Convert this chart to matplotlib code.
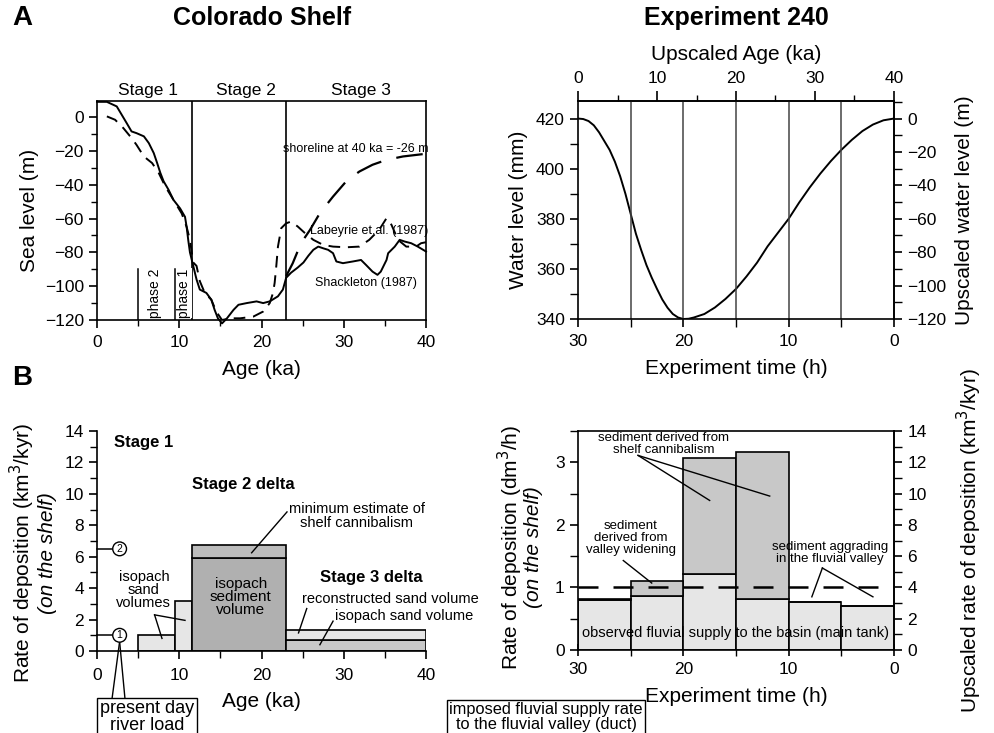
import matplotlib.pyplot as plt
from matplotlib.ticker import MultipleLocator

plt.rcParams['font.family'] = ['Liberation Sans', 'DejaVu Sans']
plt.rcParams['axes.linewidth'] = 1.2
plt.rcParams['xtick.major.width'] = 1.2
plt.rcParams['ytick.major.width'] = 1.2
plt.rcParams['xtick.minor.width'] = 1.0
plt.rcParams['ytick.minor.width'] = 1.0
plt.rcParams['xtick.labelsize'] = 12.5
plt.rcParams['ytick.labelsize'] = 12.5

# --- sea level curves (Colorado shelf) ---
shack_age = [0, 1.2, 2.4, 3.0, 3.6, 4.2, 4.8, 5.7, 6.3, 6.9, 7.3, 7.7, 8.1, 8.7, 9.3, 10.1,
             10.7, 10.9, 11.1, 11.3, 11.7, 12.1, 12.5, 13.3, 13.9, 14.3, 14.7, 15.2, 15.8,
             16.6, 17.2, 18.2, 19.4, 20.2, 21.0, 22.0, 22.6, 23.0, 23.6, 24.4, 25.1, 25.7,
             26.3, 26.9, 27.5, 28.1, 28.7, 29.1, 29.9, 31.1, 32.1, 32.7, 33.5, 34.1, 34.5,
             35.2, 35.4, 36.2, 36.8, 37.4, 38.2, 39.0, 40.0]
shack_sl = [9, 9, 6.3, 1.4, -3.5, -8.5, -9.5, -11.4, -15.4, -21.3, -27, -33, -38, -43, -49, -54,
            -59, -65, -73, -80, -88, -96, -102, -104, -108, -114, -119, -122, -119,
            -114, -111, -110, -109, -110, -109, -106, -102, -95, -92, -89, -86, -82,
            -78.5, -76.6, -77.6, -78.5, -80.5, -85.4, -86.4, -85.4, -84.5, -87.4, -91.4, -93.3, -91.4,
            -84.5, -80.5, -76.6, -72.6, -73.6, -74.6, -76.6, -79.5]

lab_age = [1.2, 2.2, 3.2, 4.2, 4.8, 5.7, 6.7, 7.5, 8.3, 9.3, 10.3, 10.9, 11.3, 11.7, 12.1,
           12.5, 13.1, 13.9, 14.5, 15.2, 16.2, 17.4, 19.0, 20.2, 21.0, 21.4, 21.6, 21.8,
           22.0, 22.4, 23.0, 23.6, 24.4, 25.3, 26.3, 27.5, 28.7, 30.3, 31.9, 33.1, 34.3,
           35.2, 35.8, 36.6, 37.6, 38.8, 39.4, 40.0]
lab_sl = [0.4, -1.6, -6.5, -12.4, -16.4, -23.3, -27.2, -33, -41, -49, -57, -65, -72.6, -86, -88,
          -97, -104, -108, -115, -120, -119, -119, -118, -115, -110, -104, -98, -88,
          -76.6, -65.7, -62.8, -61.8, -64.7, -68.7, -72.6, -75.6, -76.6, -77, -76.6, -72.6, -66.7,
          -59.8, -63.7, -72.6, -76.6, -76.6, -74.6, -74]

shore_age = [23.0, 23.8, 24.8, 25.9, 27.1, 28.7, 30.3, 31.9, 33.5, 35.2, 37.2, 40.0]
shore_sl = [-94, -86.4, -74.6, -66.7, -56.8, -47, -38, -32.2, -28.2, -25.3, -23.3, -21.7]

stage_bounds = [11.5, 23]
phase_ages = [5, 9.5]

# --- experiment 240 water level ---
exp_t = [30, 29.5, 29, 28.5, 28, 27.5, 27, 26.5, 26, 25.5, 25, 24.5, 24, 23.5, 23, 22.5, 22,
         21.5, 21, 20.5, 20, 19.5, 19, 18, 17, 16, 15, 14, 13, 12, 11, 10, 9, 8, 7, 6, 5,
         4, 3, 2, 1, 0]
exp_wl = [420, 419.8, 419, 417.3, 414.5, 411, 407.5, 402.8, 397, 390, 382, 374, 367.5, 361.5,
          356.5, 352, 347.8, 344.5, 342, 340.6, 340, 340.1, 340.6, 342, 344.6, 348, 352,
          357, 362.5, 369, 374.5, 380, 386.5, 392.5, 398, 403, 407.5, 411.5, 415, 417.6,
          419.3, 420]
exp_marks = [25, 20, 15, 10, 5]

# --- deposition rates on the shelf ---
shelf_x0 = [5, 9.5, 11.5, 23]
shelf_x1 = [9.5, 11.5, 23, 40]
shelf_isopach = [1.02, 3.18, 5.94, 0.72]
shelf_upper = [1.02, 3.18, 6.77, 1.32]
river_load = [1.0, 6.5]

exp_x0 = [30, 25, 20, 15, 10, 5]
exp_x1 = [25, 20, 15, 10, 5, 0]
exp_supply = [0.80, 0.86, 1.21, 0.81, 0.76, 0.71]
exp_total = [0.82, 1.10, 3.07, 3.16, 0.76, 0.71]
imposed_rate = 1.0

light = '#e6e6e6'
mid = '#c8c8c8'
dark = '#b0b0b0'

fig = plt.figure(figsize=(9.95, 7.33), dpi=100)
W, H = 995.0, 733.0


def box(l, r, t, b):
    return [l / W, 1 - b / H, (r - l) / W, (b - t) / H]


# ===================== A left: sea level =====================
ax1 = fig.add_axes(box(97, 426, 101, 320))
ax1.plot(shack_age, shack_sl, color='k', lw=1.4, clip_on=False)
ax1.plot(lab_age, lab_sl, color='k', lw=1.4, dashes=(6, 4))
ax1.plot(shore_age, shore_sl, color='k', lw=1.6, dashes=(12, 7))
for s in stage_bounds:
    ax1.axvline(s, color='k', lw=1.2)
for p in phase_ages:
    ax1.plot([p, p], [-120, -90], color='k', lw=1.1)
ax1.text(7.0, -104, 'phase 2', rotation=90, ha='center', va='center', fontsize=10)
ax1.text(10.6, -104, 'phase 1', rotation=90, ha='center', va='center', fontsize=10,
         bbox=dict(fc='white', ec='none', pad=0.5))
ax1.text(31.5, -19, 'shoreline at 40 ka = -26 m', ha='center', va='center', fontsize=9)
ax1.text(33.1, -67.5, 'Labeyrie et.al. (1987)', ha='center', va='center', fontsize=9)
ax1.text(32.7, -98, 'Shackleton (1987)', ha='center', va='center', fontsize=9)
for x, lab in zip([6.2, 18.1, 32.1], ['Stage 1', 'Stage 2', 'Stage 3']):
    ax1.text(x, 11.5, lab, ha='center', va='bottom', fontsize=12.5)
ax1.set_xlim(0, 40)
ax1.set_ylim(-120, 9.5)
ax1.xaxis.set_major_locator(MultipleLocator(10))
ax1.xaxis.set_minor_locator(MultipleLocator(5))
ax1.yaxis.set_major_locator(MultipleLocator(20))
ax1.yaxis.set_minor_locator(MultipleLocator(10))
ax1.tick_params(which='major', length=6, direction='out')
ax1.tick_params(which='minor', length=4, direction='out')
ax1.tick_params(axis='x', pad=5)
ax1.set_xlabel('Age (ka)', fontsize=15, labelpad=7)
ax1.set_ylabel('Sea level (m)', fontsize=15, labelpad=4)

# ===================== A right: experiment water level =====================
ax2 = fig.add_axes(box(578, 894, 101, 319))
ax2.plot(exp_t, exp_wl, color='k', lw=1.4)
for m in exp_marks:
    ax2.axvline(m, color='#444444', lw=1.1)
ax2.set_xlim(30, 0)
ax2.set_ylim(340, 427)
ax2.xaxis.set_major_locator(MultipleLocator(10))
ax2.xaxis.set_minor_locator(MultipleLocator(5))
ax2.yaxis.set_major_locator(MultipleLocator(20))
ax2.yaxis.set_minor_locator(MultipleLocator(10))
ax2.tick_params(which='major', length=6, direction='out')
ax2.tick_params(which='minor', length=6, direction='out')
ax2.tick_params(axis='x', pad=5)
ax2.set_xlabel('Experiment time (h)', fontsize=15, labelpad=7)
ax2.set_ylabel('Water level (mm)', fontsize=15, labelpad=6)

top = ax2.secondary_xaxis('top', functions=(lambda h: (30 - h) * 4 / 3, lambda a: 30 - a * 3 / 4))
top.xaxis.set_major_locator(MultipleLocator(10))
top.xaxis.set_minor_locator(MultipleLocator(5))
top.tick_params(which='major', length=7, direction='out')
top.tick_params(which='minor', length=4, direction='out')
top.set_xlabel('Upscaled Age (ka)', fontsize=15, labelpad=8)

right = ax2.secondary_yaxis('right', functions=(lambda y: (y - 420) * 1.5, lambda m: 420 + m / 1.5))
right.yaxis.set_major_locator(MultipleLocator(20))
right.yaxis.set_minor_locator(MultipleLocator(10))
right.tick_params(which='major', length=6, direction='out')
right.tick_params(which='minor', length=6, direction='out')
right.set_ylabel('Upscaled water level (m)', fontsize=15, labelpad=6)

# ===================== B left: shelf deposition =====================
ax3 = fig.add_axes(box(97, 426, 431, 651))
ax3.bar(shelf_x0, shelf_isopach, width=[b - a for a, b in zip(shelf_x0, shelf_x1)], align='edge',
        color=[light, light, dark, mid], edgecolor='k', lw=1.2, zorder=2)
ax3.bar(shelf_x0[2:], [u - i for u, i in zip(shelf_upper[2:], shelf_isopach[2:])],
        bottom=shelf_isopach[2:], width=[b - a for a, b in zip(shelf_x0[2:], shelf_x1[2:])],
        align='edge', color=['#bcbcbc', light], edgecolor='k', lw=1.2, zorder=2)
for i, r in enumerate(river_load):
    ax3.plot([0, 2.3], [r, r], color='k', lw=1.1, clip_on=False)
    ax3.text(2.75, r, str(i + 1), ha='center', va='center', fontsize=7.5, zorder=4,
             bbox=dict(boxstyle='circle,pad=0.18', fc='white', ec='k', lw=1.0))
ax3.spines['top'].set_visible(False)
ax3.spines['right'].set_visible(False)
ax3.set_xlim(0, 40)
ax3.set_ylim(0, 14)
ax3.xaxis.set_major_locator(MultipleLocator(10))
ax3.xaxis.set_minor_locator(MultipleLocator(5))
ax3.yaxis.set_major_locator(MultipleLocator(2))
ax3.yaxis.set_minor_locator(MultipleLocator(1))
ax3.tick_params(which='major', length=6, direction='out')
ax3.tick_params(which='minor', length=5, direction='out')
ax3.tick_params(axis='x', pad=6)
ax3.set_xlabel('Age (ka)', fontsize=15, labelpad=7)

ax3.text(5.7, 13.3, 'Stage 1', ha='center', va='center', fontsize=12, fontweight='bold')
ax3.text(17.8, 10.6, 'Stage 2 delta', ha='center', va='center', fontsize=12, fontweight='bold')
ax3.text(33.4, 4.7, 'Stage 3 delta', ha='center', va='center', fontsize=12, fontweight='bold')
ax3.text(17.5, 3.45, 'isopach\nsediment\nvolume', ha='center', va='center', fontsize=11,
         linespacing=0.9, zorder=3)
ax3.text(5.7, 3.9, 'isopach\nsand\nvolumes', ha='center', va='center', fontsize=10.5,
         linespacing=0.9, zorder=3)
ax3.plot([7.0, 7.9], [2.3, 0.8], color='k', lw=1.0, zorder=3)
ax3.plot([7.0, 10.7], [2.3, 1.95], color='k', lw=1.0, zorder=3)
ax3.text(31.6, 8.6, 'minimum estimate of\nshelf cannibalism', ha='center', va='center',
         fontsize=10.5, linespacing=1.0)
ax3.plot([23.1, 18.8], [8.85, 6.25], color='k', lw=1.0, zorder=3)
ax3.text(24.9, 3.3, 'reconstructed sand volume', ha='left', va='center', fontsize=10.5,
         clip_on=False)
ax3.text(28.9, 2.25, 'isopach sand volume', ha='left', va='center', fontsize=10.5,
         clip_on=False)
ax3.plot([25.5, 24.5], [2.7, 1.15], color='k', lw=1.0, zorder=3)
ax3.plot([28.7, 27.1], [1.9, 0.4], color='k', lw=1.0, zorder=3)

fig.text(22 / W, 1 - 553 / H, 'Rate of deposition (km$^3$/kyr)', rotation=90, ha='center',
         va='center', fontsize=15)
fig.text(48 / W, 1 - 553 / H, '(on the shelf)', rotation=90, ha='center', va='center',
         fontsize=15, style='italic')
fig.text(147 / W, 1 - 717 / H, 'present day\nriver load', ha='center', va='center', fontsize=13,
         linespacing=0.95, bbox=dict(boxstyle='square,pad=0.15', fc='white', ec='k', lw=1.0))
for px in [112, 125]:
    ax3.annotate('', xy=(2.75, 0.6), xycoords='data', xytext=(px, H - 699),
                 textcoords='figure pixels',
                 arrowprops=dict(arrowstyle='-', color='k', lw=1.0, shrinkA=0, shrinkB=0))

# ===================== B right: experiment deposition =====================
ax4 = fig.add_axes(box(578, 894, 431, 650))
ax4.bar(exp_x0, exp_supply, width=[b - a for a, b in zip(exp_x0, exp_x1)], align='edge',
        color=light, edgecolor='k', lw=1.2, zorder=2)
ax4.bar(exp_x0, [t - s for t, s in zip(exp_total, exp_supply)], bottom=exp_supply,
        width=[b - a for a, b in zip(exp_x0, exp_x1)], align='edge',
        color=mid, edgecolor='k', lw=1.2, zorder=2)
ax4.axhline(imposed_rate, color='k', lw=1.8, dashes=(8, 6), zorder=3)
ax4.set_xlim(30, 0)
ax4.set_ylim(0, 3.5)
ax4.xaxis.set_major_locator(MultipleLocator(10))
ax4.xaxis.set_minor_locator(MultipleLocator(5))
ax4.yaxis.set_major_locator(MultipleLocator(1))
ax4.yaxis.set_minor_locator(MultipleLocator(0.5))
ax4.tick_params(axis='x', which='both', length=8, direction='inout', pad=5)
ax4.tick_params(axis='y', which='both', length=6, direction='out')
ax4.set_xlabel('Experiment time (h)', fontsize=15, labelpad=7)

right4 = ax4.secondary_yaxis('right', functions=(lambda y: y * 4, lambda k: k / 4))
right4.yaxis.set_major_locator(MultipleLocator(2))
right4.yaxis.set_minor_locator(MultipleLocator(1))
right4.tick_params(which='major', length=6, direction='out')
right4.tick_params(which='minor', length=6, direction='out')
right4.set_ylabel('Upscaled rate of deposition (km$^3$/kyr)', fontsize=15, labelpad=20)

ax4.text(21.9, 3.29, 'sediment derived from\nshelf cannibalism', ha='center', va='center',
         fontsize=9.5, linespacing=1.0, zorder=4)
ax4.plot([24.3, 17.5], [3.11, 2.39], color='k', lw=1.0, zorder=4)
ax4.plot([24.3, 11.8], [3.11, 2.46], color='k', lw=1.0, zorder=4)
ax4.text(25.0, 1.79, 'sediment\nderived from\nvalley widening', ha='center', va='center',
         fontsize=9.5, linespacing=1.0, zorder=4)
ax4.plot([25.7, 23.0], [1.43, 1.07], color='k', lw=1.0, zorder=4)
ax4.text(6.1, 1.55, 'sediment aggrading\nin the fluvial valley', ha='center', va='center',
         fontsize=9.5, linespacing=1.0, zorder=4)
ax4.plot([6.8, 7.8], [1.31, 0.85], color='k', lw=1.0, zorder=4)
ax4.plot([6.8, 2.0], [1.31, 0.85], color='k', lw=1.0, zorder=4)
ax4.text(15.0, 0.27, 'observed fluvial supply to the basin (main tank)', ha='center',
         va='center', fontsize=10.5, zorder=4)

fig.text(510 / W, 1 - 547 / H, 'Rate of deposition (dm$^3$/h)', rotation=90, ha='center',
         va='center', fontsize=15)
fig.text(534 / W, 1 - 547 / H, '(on the shelf)', rotation=90, ha='center', va='center',
         fontsize=15, style='italic')
fig.text(546 / W, 1 - 717 / H, 'imposed fluvial supply rate\nto the fluvial valley (duct)',
         ha='center', va='center', fontsize=11.8, linespacing=0.95,
         bbox=dict(boxstyle='square,pad=0.15', fc='white', ec='k', lw=1.0))
for px in [500, 518]:
    ax4.annotate('', xy=(30.4, 0.97), xycoords='data', xytext=(px, H - 699),
                 textcoords='figure pixels',
                 arrowprops=dict(arrowstyle='-', color='k', lw=1.0, shrinkA=0, shrinkB=0))

# titles and panel letters
fig.text(262 / W, 1 - 18 / H, 'Colorado Shelf', ha='center', va='center', fontsize=18,
         fontweight='bold')
fig.text(736 / W, 1 - 18 / H, 'Experiment 240', ha='center', va='center', fontsize=18,
         fontweight='bold')
fig.text(22 / W, 1 - 18 / H, 'A', ha='center', va='center', fontsize=20, fontweight='bold')
fig.text(22 / W, 1 - 378 / H, 'B', ha='center', va='center', fontsize=20, fontweight='bold')

fig.savefig('out.png', dpi=100)
